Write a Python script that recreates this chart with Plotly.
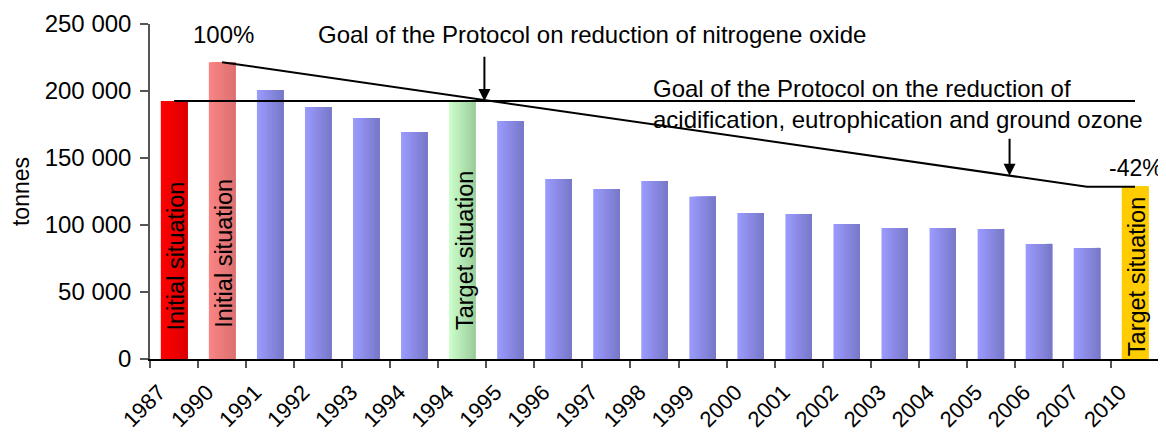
import plotly.graph_objects as go

# ---------------- data ----------------
years = ["1987", "1990", "1991", "1992", "1993", "1994", "1994", "1995", "1996", "1997",
         "1998", "1999", "2000", "2001", "2002", "2003", "2004", "2005", "2006", "2007", "2010"]
tonnes = [192500, 221500, 200700, 188000, 179800, 169400, 192500, 177600, 134400, 126900,
          132900, 121000, 109000, 108300, 100800, 97800, 97800, 97100, 85900, 82900, 128500]
kinds = ["initial87", "initial90", "actual", "actual", "actual", "actual", "target94", "actual",
         "actual", "actual", "actual", "actual", "actual", "actual", "actual", "actual", "actual",
         "actual", "actual", "actual", "target10"]
bar_texts = {"initial87": "Initial situation", "initial90": "Initial situation",
             "target94": "Target situation", "target10": "Target situation"}
text_center_values = {"initial87": 76500, "initial90": 78600, "target94": 80800, "target10": 61800}
y_ticks = [0, 50000, 100000, 150000, 200000, 250000]
y_tick_labels = ["0", "50 000", "100 000", "150 000", "200 000", "250 000"]

# ---------------- style ----------------
grad = {
    "initial87": ("#FF0000", "#DD0000"),
    "initial90": ("#FA8585", "#DC7070"),
    "actual": ("#9C9CFF", "#7777C8"),
    "target94": ("#CCFFCC", "#99CC99"),
    "target10": ("#FFCC00", "#FFCC00"),
}
FONT = "Liberation Sans, Arial, sans-serif"


def mix(c1, c2, t):
    a = [int(c1[i:i + 2], 16) for i in (1, 3, 5)]
    b = [int(c2[i:i + 2], 16) for i in (1, 3, 5)]
    return "rgb(%d,%d,%d)" % tuple(round(a[k] + (b[k] - a[k]) * t) for k in range(3))


x = list(range(len(years)))
bar_w = 0.55
N = 12
fig = go.Figure()
for i in range(N):
    t = (i + 0.5) / N
    start = -bar_w / 2 + i * bar_w / N
    fig.add_trace(go.Bar(
        x=x, y=tonnes,
        width=bar_w / 2 - start,
        offset=start,
        marker=dict(color=[mix(grad[k][0], grad[k][1], t) for k in kinds], line=dict(width=0)),
        showlegend=False, hoverinfo="skip",
    ))

# goal lines
i90 = years.index("1990")
i07 = years.index("2007")
i10 = len(years) - 1
fig.add_trace(go.Scatter(x=[i90, i07, i10], y=[tonnes[i90], tonnes[i10], tonnes[i10]],
                         mode="lines", line=dict(color="black", width=2), showlegend=False,
                         hoverinfo="skip"))
fig.add_trace(go.Scatter(x=[0, i10], y=[tonnes[0], tonnes[0]],
                         mode="lines", line=dict(color="black", width=2), showlegend=False,
                         hoverinfo="skip"))

TF = dict(size=24, family=FONT, color="black")
ann = []
for idx, k in enumerate(kinds):
    if k in bar_texts:
        ann.append(dict(x=idx, y=text_center_values[k], text=bar_texts[k], textangle=-90,
                        showarrow=False, xshift=2, font=dict(size=23.5, family=FONT, color="black")))

ann += [
    dict(x=1.04, y=242500, text="100%", showarrow=False, font=TF),
    dict(x=8.7, y=242500, text="Goal of the Protocol on reduction of nitrogene oxide",
         showarrow=False, font=TF),
    dict(x=9.917, y=190200, xanchor="left", align="left",
         text="Goal of the Protocol on the reduction of<br>acidification, eutrophication and ground ozone",
         showarrow=False, font=TF),
    dict(x=20.02, y=142600, text="-42%", showarrow=False, borderpad=0,
         font=dict(size=23, family=FONT, color="black")),
    dict(x=6.46, y=tonnes[0], ax=6.46, ay=226700, axref="x", ayref="y", text="", showarrow=True,
         arrowhead=2, arrowsize=1.2, arrowwidth=2, arrowcolor="black", standoff=0),
    dict(x=17.39, y=136800, ax=17.39, ay=165400, axref="x", ayref="y", text="", showarrow=True,
         arrowhead=2, arrowsize=1.2, arrowwidth=2, arrowcolor="black", standoff=0),
]

# the page body adds an 8px margin, so the figure is sized/placed to compensate
fig.update_layout(
    width=1158, height=424,
    margin=dict(l=142, r=7, t=16, b=73, autoexpand=False),
    paper_bgcolor="white", plot_bgcolor="white",
    barmode="overlay",
    font=dict(family=FONT, color="black"),
    annotations=ann,
    xaxis=dict(range=[-0.5, len(years) - 0.5], tickmode="array", tickvals=x, ticktext=years,
               tickangle=-45, ticks="", showgrid=False, zeroline=False,
               showline=True, linecolor="black", linewidth=1.5,
               ticklabelshift=-15, ticklabelstandoff=10,
               tickfont=dict(size=22, family=FONT, color="black"),
               minor=dict(tickmode="array", tickvals=[v - 0.5 for v in range(len(years) + 1)],
                          ticks="outside", ticklen=7, tickcolor="#555555", tickwidth=1.5,
                          showgrid=False)),
    yaxis=dict(range=[0, 250000], tickmode="array", tickvals=y_ticks, ticktext=y_tick_labels,
               ticks="outside", ticklen=8, tickcolor="#555555", tickwidth=1.5,
               showgrid=False, zeroline=False, showline=True, linecolor="#555555", linewidth=1.5,
               tickfont=dict(size=24, family=FONT, color="black"), ticklabelstandoff=4,
               title=dict(text="tonnes", font=dict(size=23, family=FONT, color="black"),
                          standoff=12)),
)

fig.write_html("out.html")
